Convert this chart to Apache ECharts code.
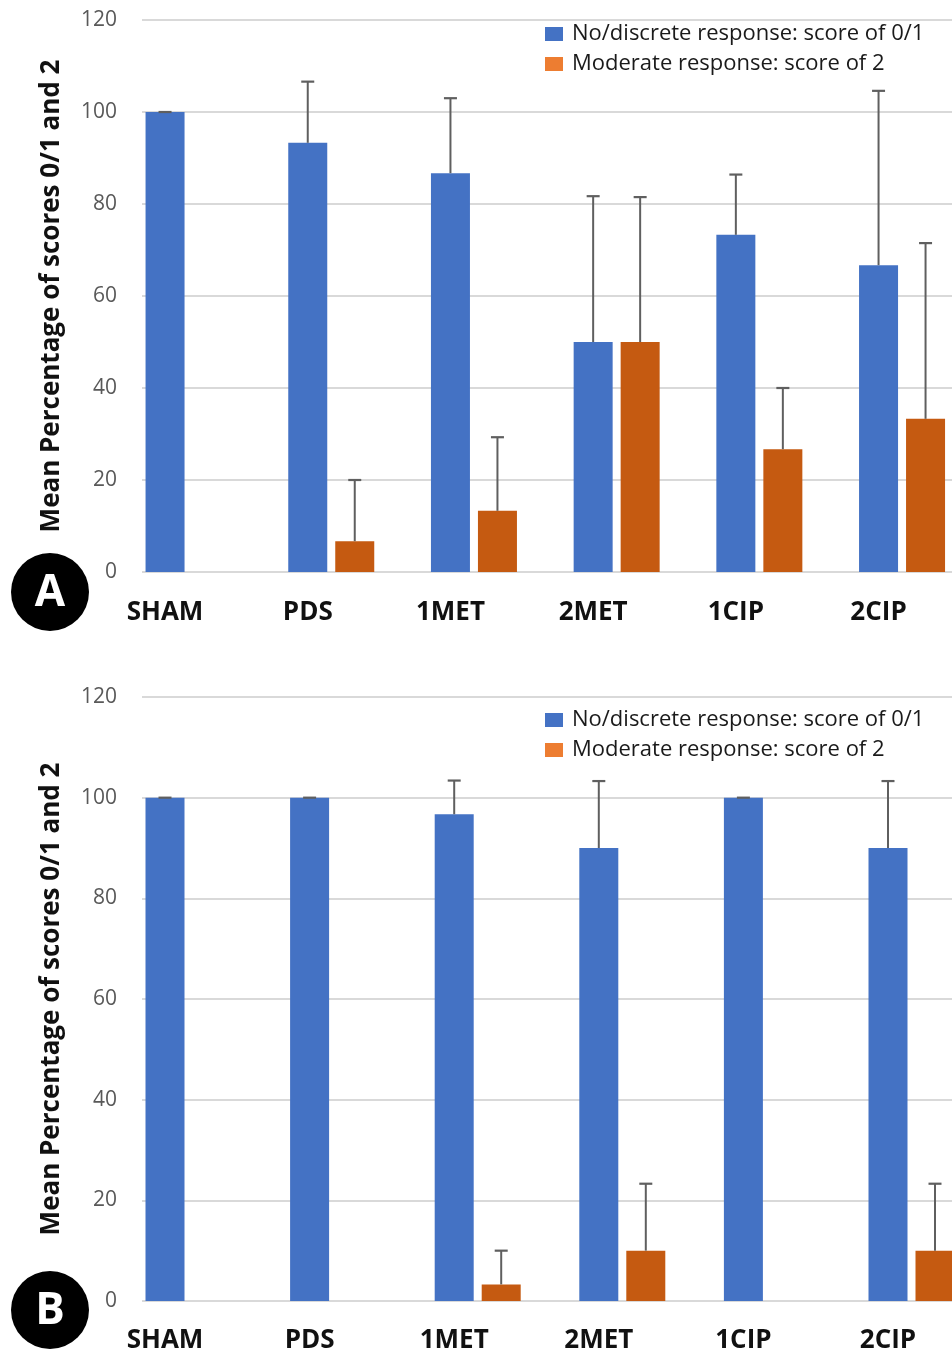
<!DOCTYPE html>
<html>
<head>
<meta charset="utf-8">
<script src="https://cdn.jsdelivr.net/npm/echarts@6/dist/echarts.min.js"></script>
<style>
  html, body { margin: 0; padding: 0; background: #ffffff; overflow: hidden; }
  /* the plot runs on past the right edge of the page, so the canvas is wider than the window */
  #chart { width: 1000px; height: 1355px; }
</style>
</head>
<body>
<div id="chart"></div>
<script>
// Treatment groups
const categories = ['SHAM', 'PDS', '1MET', '2MET', '1CIP', '2CIP'];
const yTicks = [0, 20, 40, 60, 80, 100, 120];

// Panel A: mean percentage (and upper SD) per score class
const aNoDiscrete    = [100, 93.3, 86.7, 50.0, 73.3, 66.7];
const aNoDiscreteErr = [0, 13.3, 16.3, 31.7, 13.1, 37.9];
const aModerate      = [0, 6.7, 13.3, 50.0, 26.7, 33.3];
const aModerateErr   = [0, 13.3, 16.0, 31.5, 13.3, 38.2];

// Panel B
const bNoDiscrete    = [100, 100, 96.7, 90.0, 100, 90.0];
const bNoDiscreteErr = [0, 0, 6.7, 13.3, 0, 13.3];
const bModerate      = [0, 0, 3.3, 10.0, 0, 10.0];
const bModerateErr   = [0, 0, 6.7, 13.3, 0, 13.3];

const seriesNames = ['No/discrete response: score of 0/1', 'Moderate response: score of 2'];

const BLUE = '#4472C4';
const ORANGE_BAR = '#C55A11';
const ORANGE_KEY = '#ED7D31';
const ERR_COLOR = '#5f5f5f';
const GRID_COLOR = '#d9d9d9';
const FONT = '"Open Sans", "Noto Sans", sans-serif';
const BAR_W = 39;
const BAR_GAP = 8;
const HALF_STEP = (BAR_W + BAR_GAP) / 2;

function errorBars(xIdx, yIdx, values, errs, offset) {
  return {
    type: 'custom',
    name: 'err',
    xAxisIndex: xIdx,
    yAxisIndex: yIdx,
    z: 5,
    silent: true,
    data: values.map((v, i) => [i, v, v + errs[i]]),
    renderItem(params, api) {
      const v = api.value(1);
      if (!(v > 0)) return;
      const base = api.coord([api.value(0), v]);
      const top = api.coord([api.value(0), api.value(2)]);
      const x = base[0] + offset;
      return {
        type: 'group',
        children: [
          { type: 'line', shape: { x1: x, y1: base[1], x2: x, y2: top[1] },
            style: { stroke: ERR_COLOR, lineWidth: 2 } },
          { type: 'line', shape: { x1: x - 6.5, y1: top[1], x2: x + 6.5, y2: top[1] },
            style: { stroke: ERR_COLOR, lineWidth: 2.2 } }
        ]
      };
    }
  };
}

// layout per panel: plot top/height, band grid left/width, legend top, label margin
const panels = [
  { top: 20, height: 552, bandLeft: 117.2, bandWidth: 856.2, legendTop: 23, labelMargin: 28,
    low: aNoDiscrete, lowErr: aNoDiscreteErr, mod: aModerate, modErr: aModerateErr },
  { top: 697, height: 604, bandLeft: 116.2, bandWidth: 867.6, legendTop: 709, labelMargin: 27,
    low: bNoDiscrete, lowErr: bNoDiscreteErr, mod: bModerate, modErr: bModerateErr }
];

const grid = [], xAxis = [], yAxis = [], series = [], legend = [];

panels.forEach((p, k) => {
  const gLines = grid.length;       // gridline / value-axis grid
  grid.push({ left: 142, top: p.top, width: 840, height: p.height });
  const gBars = grid.length;        // category grid holding the bars
  grid.push({ left: p.bandLeft, top: p.top, width: p.bandWidth, height: p.height });

  xAxis.push({ gridIndex: gLines, type: 'value', show: false, min: 0, max: 1 });
  yAxis.push({
    gridIndex: gLines, type: 'value', min: yTicks[0], max: yTicks[yTicks.length - 1], interval: 20,
    axisLine: { show: false }, axisTick: { show: false },
    axisLabel: { color: '#595959', fontSize: 21, fontFamily: FONT, margin: 25 },
    splitLine: { lineStyle: { color: GRID_COLOR, width: 2 } },
    name: 'Mean Percentage of scores 0/1 and 2',
    nameLocation: 'middle', nameGap: 77,
    nameTextStyle: { color: '#111', fontSize: 26, fontWeight: 'bold', fontFamily: FONT }
  });

  xAxis.push({
    gridIndex: gBars, type: 'category', data: categories,
    axisLine: { show: false }, axisTick: { show: false },
    axisLabel: { color: '#111', fontSize: 26, fontWeight: 'bold', fontFamily: FONT,
                 margin: p.labelMargin, padding: [0, 2 * HALF_STEP, 0, 0] }
  });
  yAxis.push({ gridIndex: gBars, type: 'value', min: 0, max: 120, show: false,
               splitLine: { show: false } });

  const xi = k * 2 + 1, yi = k * 2 + 1;
  series.push({
    type: 'bar', name: seriesNames[0], xAxisIndex: xi, yAxisIndex: yi,
    data: p.low, barWidth: BAR_W, barGap: (BAR_GAP / BAR_W * 100) + '%',
    itemStyle: { color: BLUE }, silent: true
  });
  series.push({
    type: 'bar', name: seriesNames[1], xAxisIndex: xi, yAxisIndex: yi,
    data: p.mod, barWidth: BAR_W, barGap: (BAR_GAP / BAR_W * 100) + '%',
    itemStyle: { color: ORANGE_BAR }, silent: true
  });
  series.push(errorBars(xi, yi, p.low, p.lowErr, -HALF_STEP));
  series.push(errorBars(xi, yi, p.mod, p.modErr, HALF_STEP));

  legend.push({
    orient: 'vertical', left: 545, top: p.legendTop, padding: 0,
    itemWidth: 18, itemHeight: 14, itemGap: 8,
    icon: 'rect', selectedMode: false,
    textStyle: { color: '#1a1a1a', fontSize: 22, fontFamily: FONT, padding: [0, 0, 0, 4] },
    data: [
      { name: seriesNames[0], itemStyle: { color: BLUE } },
      { name: seriesNames[1], itemStyle: { color: ORANGE_KEY } }
    ]
  });
});

// Panel letters
const graphic = [
  { cy: 592, text: 'A' },
  { cy: 1310, text: 'B' }
].map(b => ({
  type: 'group', children: [
    { type: 'circle', shape: { cx: 50, cy: b.cy, r: 39 }, style: { fill: '#000' } },
    { type: 'text', x: 50, y: b.cy + 1,
      style: { text: b.text, fill: '#fff', font: 'bold 44px "Open Sans", sans-serif',
               align: 'center', verticalAlign: 'middle' } }
  ]
}));

const chart = echarts.init(document.getElementById('chart'), null, { renderer: 'canvas' });
chart.setOption({
  animation: false,
  backgroundColor: '#ffffff',
  grid, xAxis, yAxis, series, legend, graphic
});
</script>
</body>
</html>
